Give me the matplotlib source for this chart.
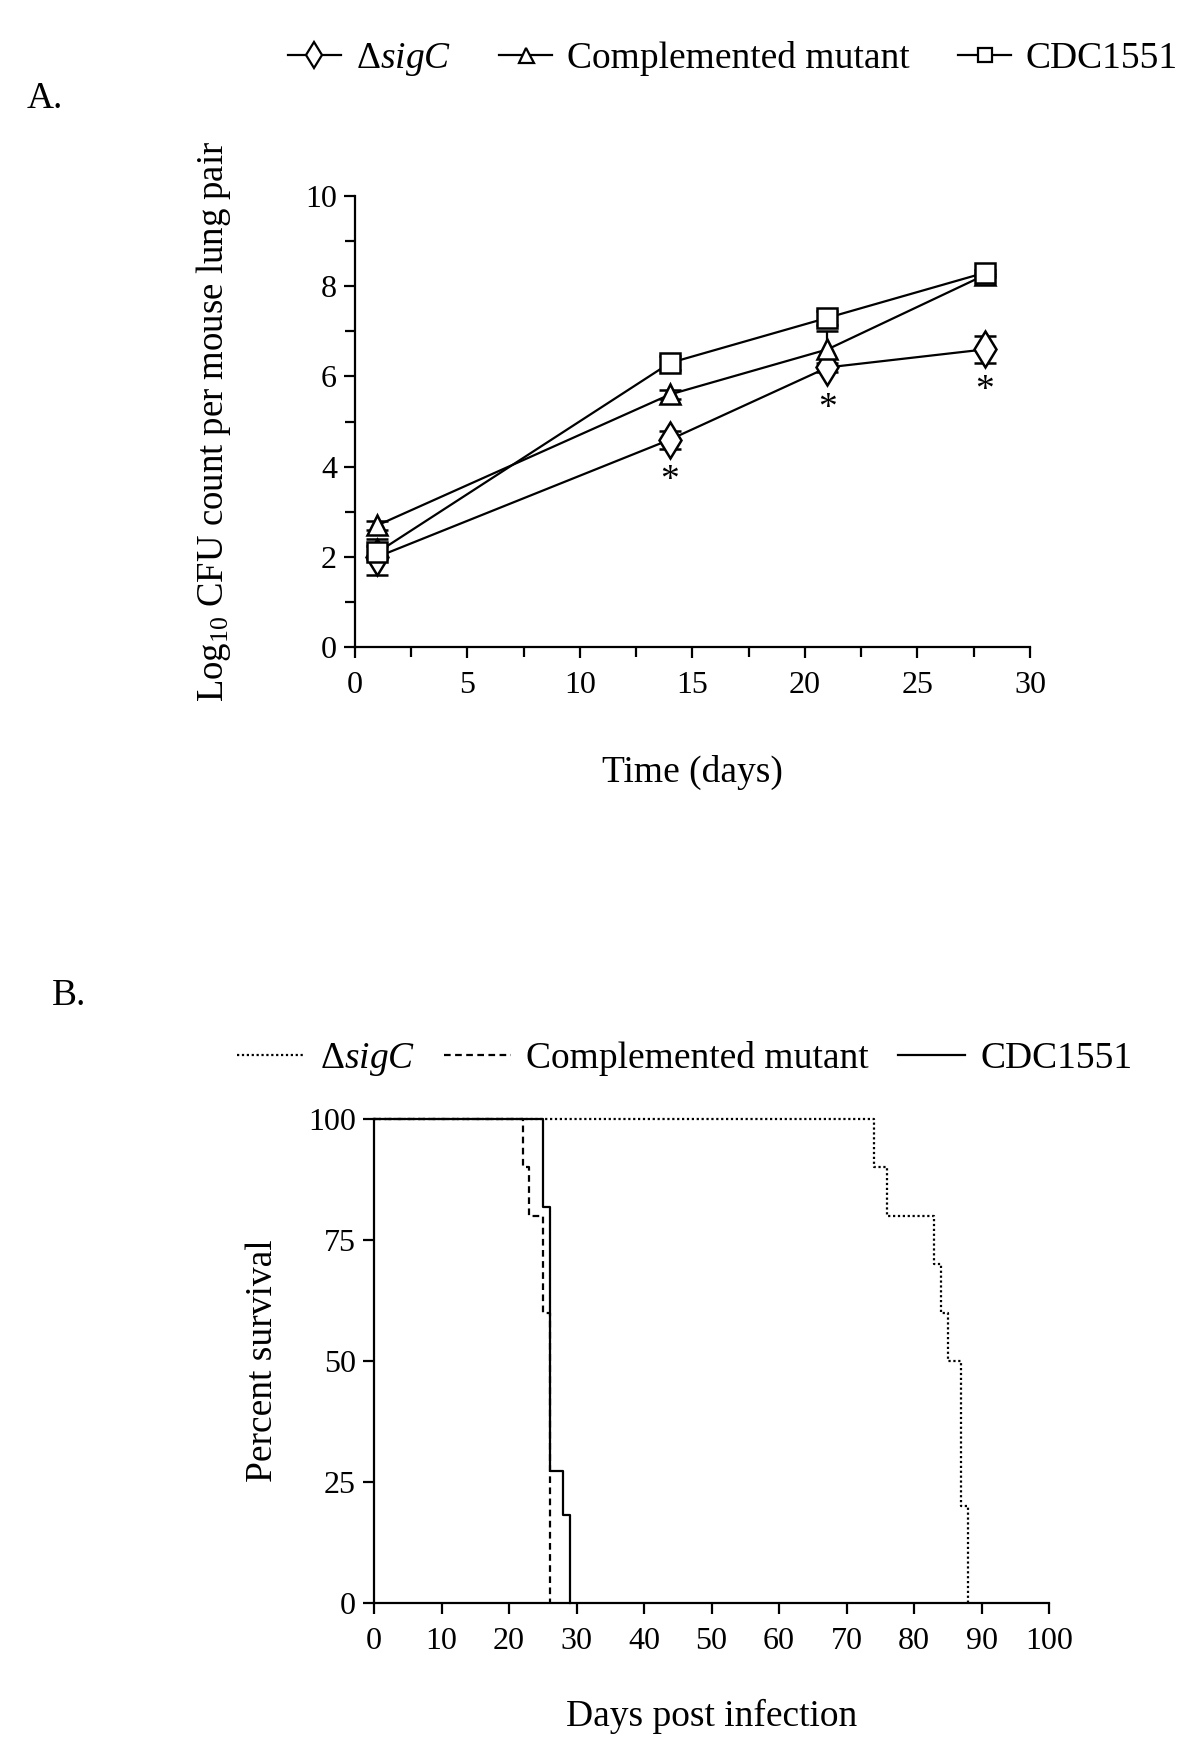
import matplotlib
matplotlib.use("Agg")
import matplotlib.pyplot as plt
from matplotlib.ticker import MultipleLocator

plt.rcParams['font.family'] = ['Liberation Serif', 'DejaVu Serif']
plt.rcParams['mathtext.fontset'] = 'custom'
plt.rcParams['mathtext.rm'] = 'Liberation Serif'
plt.rcParams['mathtext.it'] = 'Liberation Serif:italic'

# ---------------- Panel A data ----------------
days = [1, 14, 21, 28]
sigC_mean = [2.0, 4.6, 6.2, 6.6]
sigC_err = [0.4, 0.2, 0.1, 0.3]
comp_mean = [2.7, 5.6, 6.6, 8.25]
comp_err = [0.1, 0.1, 0.4, 0.05]
cdc_mean = [2.1, 6.3, 7.3, 8.3]
cdc_err = [0.15, 0.15, 0.15, 0.05]
star_days = [14, 21, 28]
star_offset = 0.92

# ---------------- Panel B data ----------------
sigC_t = [0, 74, 76, 83, 84, 85, 87, 88]
sigC_s = [100, 90, 80, 70, 60, 50, 20, 0]
comp_t = [0, 22, 23, 25, 26]
comp_s = [100, 90, 80, 60, 0]
cdc_t = [0, 25, 26, 28, 29]
cdc_s = [100, 81.8, 27.3, 18.2, 0]

labels = [r'$\Delta\mathit{sigC}$', 'Complemented mutant', 'CDC1551']

fig = plt.figure(figsize=(12, 17.55), dpi=100)

FS_TICK = 23
FS_LAB = 27
FS_LEG = 27
LW = 1.6

# ---------------- Panel A ----------------
axA = fig.add_axes([0.2958, 0.6313, 0.5625, 0.2570])
series = [(sigC_mean, sigC_err, 'd', 18), (comp_mean, comp_err, '^', 15), (cdc_mean, cdc_err, 's', 14)]
for (m, e, mk, ms), lab in zip(series, labels):
    axA.errorbar(days, m, yerr=e, color='black', lw=LW, marker=mk, ms=ms,
                 mfc='white', mec='black', mew=1.8, capsize=8, capthick=LW,
                 elinewidth=LW, label=lab, clip_on=False, zorder=3)
for d in star_days:
    i = days.index(d)
    axA.text(d, sigC_mean[i] - star_offset, '*', ha='center', va='center', fontsize=27)
axA.set_xlim(0, 30)
axA.set_ylim(0, 10)
axA.xaxis.set_major_locator(MultipleLocator(5))
axA.xaxis.set_minor_locator(MultipleLocator(2.5))
axA.yaxis.set_major_locator(MultipleLocator(2))
axA.yaxis.set_minor_locator(MultipleLocator(1))
axA.spines['top'].set_visible(False)
axA.spines['right'].set_visible(False)
for s in ['left', 'bottom']:
    axA.spines[s].set_linewidth(LW)
axA.tick_params(which='major', length=8, width=LW, labelsize=FS_TICK)
axA.tick_params(axis='x', which='major', pad=9)
axA.tick_params(axis='y', which='major', pad=5)
axA.tick_params(which='minor', length=7, width=LW)
axA.set_xlabel('Time (days)', fontsize=FS_LAB)
axA.set_ylabel(r'Log$_{10}$ CFU count per mouse lung pair', fontsize=26.5)
axA.xaxis.set_label_coords(0.5, -0.24)
axA.yaxis.set_label_coords(-0.18, 0.5)

legA_handles = []
for (m, e, mk, ms) in series:
    ln, = axA.plot([], [], color='black', lw=LW, marker=mk, ms=ms * 0.72, mfc='white',
                   mec='black', mew=1.6)
    legA_handles.append(ln)
fig.legend(legA_handles, labels, loc='center', bbox_to_anchor=(733 / 1200, 1 - 60 / 1755),
           ncol=3, frameon=False, fontsize=FS_LEG, handlelength=1.4, columnspacing=1.3,
           handletextpad=0.4)
fig.text(45 / 1200, 1 - 99 / 1755, 'A.', fontsize=FS_LAB, ha='center', va='center')

# ---------------- Panel B ----------------
axB = fig.add_axes([0.3117, 0.0866, 0.5625, 0.2758])
styles = [(0, (1, 1.2)), (0, (3, 2)), '-']
curves = [(sigC_t, sigC_s), (comp_t, comp_s), (cdc_t, cdc_s)]
legB = []
for (t, s), ls, lab in zip(curves, styles, labels):
    ln, = axB.step(t, s, where='post', color='black', lw=LW, linestyle=ls, label=lab,
                   clip_on=False)
    legB.append(ln)
axB.set_xlim(0, 100)
axB.set_ylim(0, 100)
axB.xaxis.set_major_locator(MultipleLocator(10))
axB.yaxis.set_major_locator(MultipleLocator(25))
axB.spines['top'].set_visible(False)
axB.spines['right'].set_visible(False)
for s in ['left', 'bottom']:
    axB.spines[s].set_linewidth(LW)
axB.tick_params(which='major', length=8, width=LW, labelsize=FS_TICK)
axB.tick_params(axis='x', which='major', pad=9)
axB.tick_params(axis='y', which='major', pad=5)
axB.set_xlabel('Days post infection', fontsize=FS_LAB)
axB.set_ylabel('Percent survival', fontsize=FS_LAB)
axB.xaxis.set_label_coords(0.5, -0.199)
axB.yaxis.set_label_coords(-0.139, 0.5)
fig.legend(legB, labels, loc='center', bbox_to_anchor=(685 / 1200, 1 - 1060 / 1755),
           ncol=3, frameon=False, fontsize=FS_LEG, handlelength=1.8, columnspacing=0.77,
           handletextpad=0.4)
fig.text(69 / 1200, 1 - 996 / 1755, 'B.', fontsize=FS_LAB, ha='center', va='center')

fig.savefig('out.png', dpi=100)
